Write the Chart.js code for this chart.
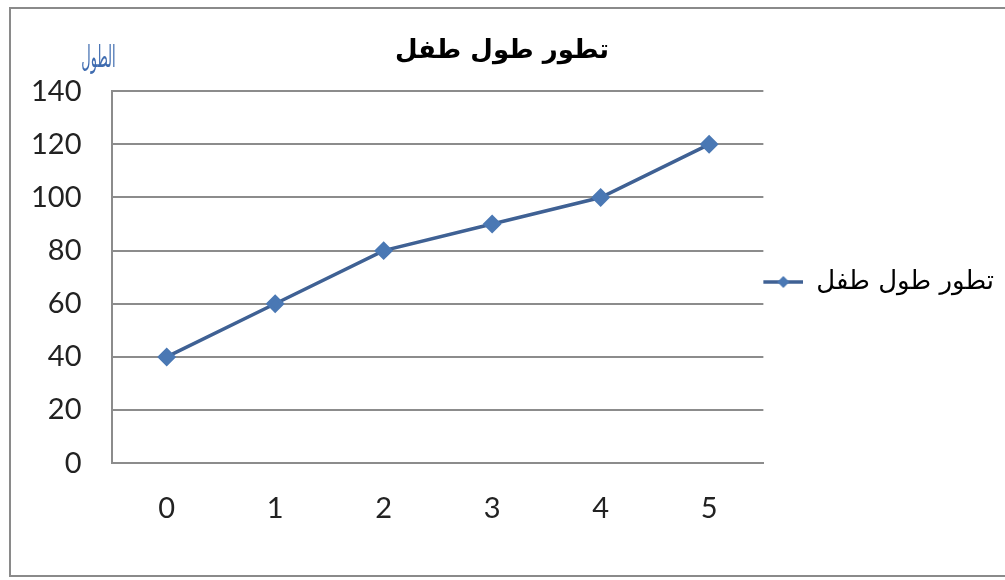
<!DOCTYPE html>
<html>
<head>
<meta charset="utf-8">
<script src="https://cdn.jsdelivr.net/npm/chart.js@4"></script>
<style>
  body { margin: 0; background: #fff; }
  #wrap { position: relative; width: 1005px; height: 580px; overflow: hidden; }
  #frame { position: absolute; left: 9px; top: 7px; width: 1010px; height: 570px; border: 2px solid #8a8a8a; box-sizing: border-box; }
  canvas { position: absolute; left: 0; top: 0; }
</style>
</head>
<body>
<div id="wrap">
  <div id="frame"></div>
  <canvas id="myChart"></canvas>
</div>
<script>
const ctx = document.getElementById("myChart");

var xValues = ["0", "1", "2", "3", "4", "5"];
var yValues = [40, 60, 80, 90, 100, 120];
var seriesName = "تطور طول طفل";
var titleText = "تطور طول طفل";
var yLabel = "الطول";
var lineColor = "#3f6194";
var markColor = "#4a78b4";

// legend key: line with a diamond in the middle
var key = document.createElement("canvas");
key.width = 40;
key.height = 14;
var k = key.getContext("2d");
k.strokeStyle = lineColor;
k.lineWidth = 3.5;
k.beginPath();
k.moveTo(0, 7);
k.lineTo(40, 7);
k.stroke();
k.fillStyle = markColor;
k.beginPath();
k.moveTo(20, 1);
k.lineTo(26, 7);
k.lineTo(20, 13);
k.lineTo(14, 7);
k.closePath();
k.fill();

const yLabelPlugin = {
    id: "yLabel",
    afterDraw(chart) {
        var c = chart.ctx;
        c.save();
        c.translate(chart.chartArea.left - 14, chart.chartArea.top - 32);
        c.scale(1, 2.3);
        c.font = "13px 'DejaVu Sans'";
        c.fillStyle = "#3f6cb0";
        c.textAlign = "center";
        c.textBaseline = "middle";
        c.fillText(yLabel, 0, 0);
        c.restore();
    },
};

new Chart(ctx, {
    type: "line",
    data: {
        labels: xValues,
        datasets: [
            {
                label: seriesName,
                data: yValues,
                borderColor: lineColor,
                backgroundColor: markColor,
                pointBorderColor: markColor,
                borderWidth: 3.5,
                pointStyle: "rectRot",
                pointRadius: 7,
                pointHoverRadius: 7,
                tension: 0,
            },
        ],
    },
    options: {
        responsive: true,
        maintainAspectRatio: false,
        animation: false,
        layout: {
            padding: { left: 0, right: 1, top: 18, bottom: 34 },
        },
        scales: {
            x: {
                offset: true,
                grid: { display: false },
                border: { display: true, color: "#8c8c8c", width: 2 },
                ticks: {
                    padding: 20,
                    color: "#222",
                    font: { size: 29, family: "Lato" },
                },
            },
            y: {
                min: 0,
                max: 140,
                grid: { color: "#8c8c8c", lineWidth: 2, drawTicks: false },
                border: { display: true, color: "#8c8c8c", width: 2 },
                ticks: {
                    stepSize: 20,
                    padding: 31,
                    color: "#222",
                    font: { size: 29, family: "Lato" },
                },
            },
        },
        plugins: {
            title: {
                display: true,
                text: titleText,
                color: "#000",
                font: { size: 26, weight: "bold", family: "DejaVu Sans" },
                padding: { top: 18, bottom: 24 },
            },
            legend: {
                position: "right",
                labels: {
                    usePointStyle: true,
                    pointStyleWidth: 40,
                    color: "#222",
                    padding: 0,
                    font: { size: 26, family: "DejaVu Sans" },
                    generateLabels(chart) {
                        return [
                            {
                                text: seriesName,
                                pointStyle: key,
                                fillStyle: lineColor,
                                strokeStyle: lineColor,
                                lineWidth: 0,
                                datasetIndex: 0,
                            },
                        ];
                    },
                },
            },
            tooltip: { enabled: false },
        },
    },
    plugins: [yLabelPlugin],
});
</script>
</body>
</html>
